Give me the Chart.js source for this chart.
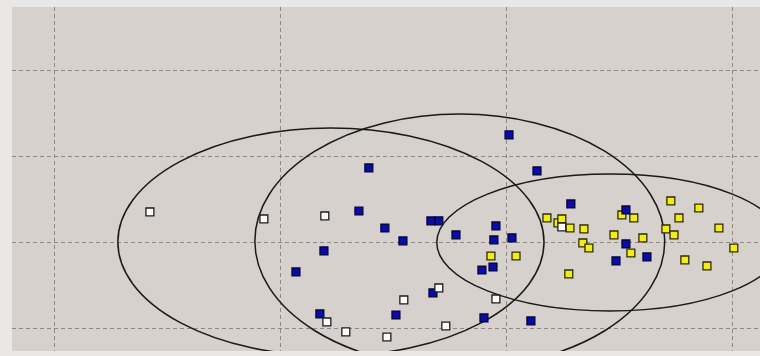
<!DOCTYPE html>
<html>
<head>
<meta charset="utf-8">
<script src="https://cdn.jsdelivr.net/npm/chart.js@4/dist/chart.umd.min.js"></script>
<style>
  html, body { margin: 0; padding: 0; background: #e9e8e6; }
  canvas { display: block; }
</style>
</head>
<body>
<canvas id="c" width="760" height="356"></canvas>
<script>
// Grid positions along each axis
const xTicks = [0, 10, 20, 30];
const yTicks = [0, 10, 20, 30];

// Group A (blue)
const blueX = [13.91, 20.12, 21.36, 13.47, 14.62, 15.42, 11.92, 10.68, 11.74, 16.66, 17.01, 17.77, 19.54,
               19.45, 20.25, 18.92, 19.41, 16.75, 15.11, 19.01, 21.09, 22.86, 25.30, 25.30, 24.86, 26.23];
const blueY = [18.71, 22.55, 18.36, 13.70, 11.72, 10.21, 9.05, 6.60, 1.71, 12.54, 12.54, 10.91, 11.96,
               10.33, 10.56, 6.83, 7.18, 4.16, 1.59, 1.25, 0.90, 14.52, 13.82, 9.86, 7.88, 8.35];

// Group B (yellow)
const yellowX = [19.32, 20.43, 21.80, 22.29, 22.46, 22.82, 23.44, 23.39, 23.66, 22.77, 25.12, 25.65,
                 24.77, 26.05, 25.52, 27.29, 28.53, 27.65, 27.07, 27.43, 29.42, 30.08, 27.91, 28.89];
const yellowY = [8.46, 8.46, 12.89, 12.31, 12.77, 11.72, 11.61, 9.98, 9.39, 6.37, 13.24, 12.89,
                 10.91, 10.56, 8.81, 14.87, 14.05, 12.89, 11.61, 10.91, 11.72, 9.39, 8.00, 7.30];

// Group C (white)
const whiteX = [4.21, 9.26, 11.96, 15.46, 17.01, 19.54, 17.32, 12.05, 12.89, 14.71, 22.46];
const whiteY = [13.59, 12.77, 13.12, 3.34, 4.74, 3.46, 0.31, 0.78, -0.38, -0.97, 11.84];

// Group ellipses: centre and semi-axes in data units
const ellipseCX = [12.23, 17.94, 24.59];
const ellipseCY = [10.09, 10.21, 10.03];
const ellipseRX = [9.44, 9.08, 7.67];
const ellipseRY = [13.27, 14.78, 7.97];

const toPoints = (xs, ys) => xs.map((x, i) => ({ x: x, y: ys[i] }));

const plotBackground = {
  id: 'plotBackground',
  beforeDraw(chart) {
    const { ctx, chartArea: a } = chart;
    ctx.save();
    ctx.fillStyle = '#d6d1cc';
    ctx.fillRect(a.left, a.top, a.right - a.left, a.bottom - a.top);
    ctx.restore();
  }
};

const groupEllipses = {
  id: 'groupEllipses',
  beforeDatasetsDraw(chart) {
    const { ctx, chartArea: a, scales: { x, y } } = chart;
    ctx.save();
    ctx.beginPath();
    ctx.rect(a.left, a.top, a.right - a.left, a.bottom - a.top);
    ctx.clip();
    ctx.strokeStyle = '#1a1a1a';
    ctx.lineWidth = 1.5;
    for (let i = 0; i < ellipseCX.length; i++) {
      const cx = x.getPixelForValue(ellipseCX[i]);
      const cy = y.getPixelForValue(ellipseCY[i]);
      const rx = Math.abs(x.getPixelForValue(ellipseCX[i] + ellipseRX[i]) - cx);
      const ry = Math.abs(y.getPixelForValue(ellipseCY[i] + ellipseRY[i]) - cy);
      ctx.beginPath();
      ctx.ellipse(cx, cy, rx, ry, 0, 0, Math.PI * 2);
      ctx.stroke();
    }
    ctx.restore();
  }
};

const marker = (fill, border, order) => ({
  pointStyle: 'rect',
  pointRadius: 5.6,
  pointHoverRadius: 5.6,
  pointBackgroundColor: fill,
  pointBorderColor: border,
  pointBorderWidth: 1.3,
  order: order
});

const axis = (ticks, min, max) => ({
  type: 'linear',
  min: min,
  max: max,
  afterBuildTicks: (scale) => { scale.ticks = ticks.map(v => ({ value: v })); },
  ticks: { display: false },
  grid: { color: '#8e8984', lineWidth: 1, drawTicks: false },
  border: { display: false, dash: [4, 3] }
});

new Chart(document.getElementById('c'), {
  type: 'scatter',
  data: {
    datasets: [
      Object.assign({ label: 'C', data: toPoints(whiteX, whiteY) }, marker('#ffffff', '#1c1c1c', 0)),
      Object.assign({ label: 'A', data: toPoints(blueX, blueY) }, marker('#0b0ba6', '#05053a', 1)),
      Object.assign({ label: 'B', data: toPoints(yellowX, yellowY) }, marker('#f2ee14', '#2e2c08', 2))
    ]
  },
  options: {
    responsive: false,
    animation: false,
    layout: { autoPadding: false, padding: { left: 12, top: 7, right: 0, bottom: 5 } },
    plugins: { legend: { display: false }, tooltip: { enabled: false }, title: { display: false } },
    scales: {
      x: axis(xTicks, -1.9, 31.24),
      y: axis(yTicks, -2.6, 37.45)
    }
  },
  plugins: [plotBackground, groupEllipses]
});
</script>
</body>
</html>
